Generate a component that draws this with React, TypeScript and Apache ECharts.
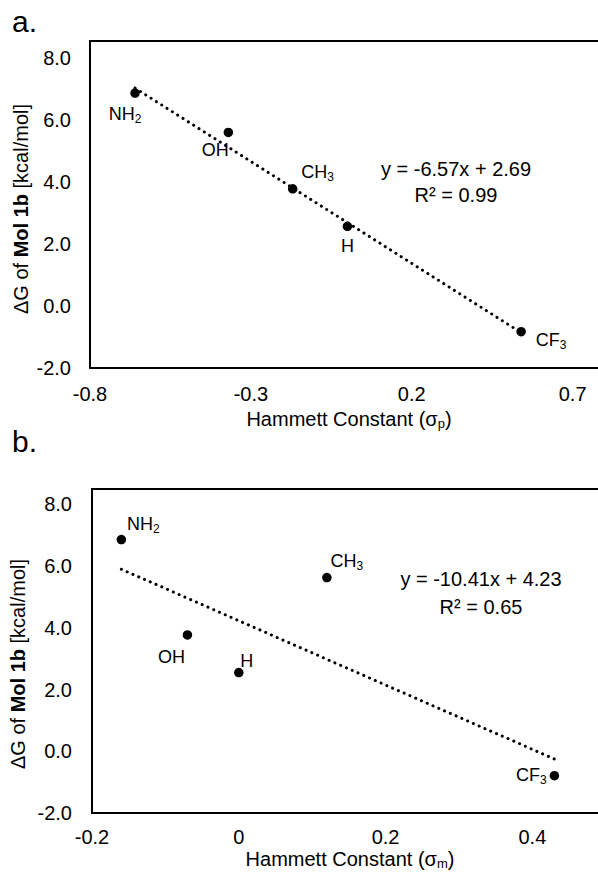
import React, { useEffect, useRef } from 'react';
import * as echarts from 'echarts';

// ---- Data: panel a (sigma para) ----
const substituentsA = ['NH2', 'OH', 'CH3', 'H', 'CF3'];
const sigmaP = [-0.66, -0.37, -0.17, 0, 0.54];
const dGA = [6.87, 5.6, 3.78, 2.57, -0.83];
const trendAX = [-0.66, 0.54];
const trendAY = [7.03, -0.86];
const equationA = ['y = -6.57x + 2.69', 'R² = 0.99'];

// ---- Data: panel b (sigma meta) ----
const substituentsB = ['NH2', 'OH', 'CH3', 'H', 'CF3'];
const sigmaM = [-0.16, -0.07, 0.12, 0, 0.43];
const dGB = [6.86, 3.77, 5.63, 2.55, -0.79];
const trendBX = [-0.16, 0.43];
const trendBY = [5.9, -0.25];
const equationB = ['y = -10.41x + 4.23', 'R² = 0.65'];

// ---- Tick labels ----
const xTicksA = ['-0.8', '-0.3', '0.2', '0.7'];
const xTicksB = ['-0.2', '0', '0.2', '0.4'];
const yTicks = ['-2.0', '0.0', '2.0', '4.0', '6.0', '8.0'];

// ---- Label placement (style, not data) ----
const labelOffsetsA = [[-10, 21], [-13, 18], [25, -17], [0, 20], [30, 8]];
const labelOffsetsB = [[22, -16], [-16, 22], [20, -17], [8, -12], [-23, -1]];

const FONT = 'Liberation Sans, Arial, Helvetica, sans-serif';

const subscript = (s: string) => s.replace(/(\d)/g, '{s|$1}');

const tickFormatter = (ticks: string[]) => (v: number) => {
  const t = ticks.find((t) => Math.abs(Number(t) - v) < 1e-6);
  return t ?? '';
};

const labelRich = {
  s: { fontSize: 12, fontFamily: FONT, color: '#000', verticalAlign: 'bottom', lineHeight: 12 },
};

const nameRich = {
  g: { fontSize: 20, fontFamily: FONT, color: '#000' },
  s: { fontSize: 13, fontFamily: FONT, color: '#000', verticalAlign: 'bottom', lineHeight: 13 },
};

const yNameRich = {
  n: { fontSize: 20, fontFamily: FONT, color: '#000' },
  b: { fontSize: 20, fontFamily: FONT, color: '#000', fontWeight: 'bold' },
};

function scatterSeries(idx: number, names: string[], xs: number[], ys: number[], offsets: number[][]) {
  return {
    type: 'scatter',
    xAxisIndex: idx,
    yAxisIndex: idx,
    symbol: 'circle',
    symbolSize: 9.5,
    z: 5,
    itemStyle: { color: '#000', opacity: 1 },
    label: {
      show: true,
      position: [4.75, 4.75],
      align: 'center',
      verticalAlign: 'middle',
      color: '#000',
      textBorderWidth: 0,
      fontSize: 18,
      lineHeight: 22,
      fontFamily: FONT,
      formatter: (p: any) => subscript(p.name),
      rich: labelRich,
    },
    emphasis: { disabled: true },
    data: xs.map((x, i) => ({
      name: names[i],
      value: [x, ys[i]],
      label: { offset: offsets[i] },
    })),
  };
}

function trendSeries(idx: number, xs: number[], ys: number[]) {
  return {
    type: 'line',
    xAxisIndex: idx,
    yAxisIndex: idx,
    showSymbol: false,
    silent: true,
    z: 3,
    lineStyle: { color: '#000', width: 3, type: [0.1, 6.2], cap: 'round' },
    data: xs.map((x, i) => [x, ys[i]]),
  };
}

function xAxisCfg(idx: number, min: number, max: number, interval: number, ticks: string[], subLetter: string, margin: number, gap: number) {
  return {
    gridIndex: idx,
    type: 'value',
    min,
    max,
    interval,
    axisLine: { show: false },
    axisTick: { show: false },
    splitLine: { show: false },
    axisLabel: { margin, lineHeight: 18, fontSize: 20, color: '#000', fontFamily: FONT, formatter: tickFormatter(ticks) },
    name: `Hammett Constant ({g|σ}{s|${subLetter}})`,
    nameLocation: 'middle',
    nameGap: gap,
    nameMoveOverlap: false,
    nameTextStyle: { fontSize: 20, lineHeight: 22, color: '#000', fontFamily: FONT, rich: nameRich },
  };
}

function yAxisCfg(idx: number, min: number, max: number, margin: number, gap: number, padR: number) {
  return {
    gridIndex: idx,
    type: 'value',
    min,
    max,
    interval: 2,
    axisLine: { show: false },
    axisTick: { show: false },
    splitLine: { show: false },
    axisLabel: { margin, fontSize: 20, color: '#000', fontFamily: FONT, formatter: tickFormatter(yTicks) },
    name: '{n|ΔG of }{b|Mol 1b}{n| [kcal/mol]}',
    nameLocation: 'middle',
    nameGap: gap,
    nameMoveOverlap: false,
    nameTextStyle: { fontSize: 20, color: '#000', fontFamily: FONT, rich: yNameRich, padding: [0, padR, 0, 0] },
  };
}

export default function App() {
  const ref = useRef<HTMLDivElement>(null);

  useEffect(() => {
    if (!ref.current) return;
    const chart = echarts.init(ref.current, undefined, { renderer: 'svg' });
    chart.setOption({
      animation: false,
      backgroundColor: '#fff',
      textStyle: { fontFamily: FONT, color: '#000' },
      grid: [
        { left: 90, top: 41, right: -10, height: 327, outerBoundsMode: 'none', containLabel: false, show: true, borderColor: '#000', borderWidth: 2, backgroundColor: 'transparent' },
        { left: 92, top: 489, right: -10, height: 324, outerBoundsMode: 'none', containLabel: false, show: true, borderColor: '#000', borderWidth: 2, backgroundColor: 'transparent' },
      ],
      xAxis: [
        xAxisCfg(0, -0.8, 0.81, 0.5, xTicksA, 'p', 17, 40),
        xAxisCfg(1, -0.2, 0.503, 0.2, xTicksB, 'm', 15, 35),
      ],
      yAxis: [
        yAxisCfg(0, -2, 8.55, 19, 59, 9),
        yAxisCfg(1, -2, 8.5, 20, 64, 26),
      ],
      graphic: [
        { type: 'text', left: 12, top: 6, style: { text: 'a.', fontSize: 30, fontFamily: FONT, fill: '#000' } },
        { type: 'text', left: 12, top: 426, style: { text: 'b.', fontSize: 30, fontFamily: FONT, fill: '#000' } },
        {
          type: 'text',
          x: 456,
          y: 182,
          style: { text: equationA.join('\n'), fontSize: 20, lineHeight: 26, fontFamily: FONT, fill: '#000', align: 'center', verticalAlign: 'middle' },
        },
        {
          type: 'text',
          x: 481,
          y: 593,
          style: { text: equationB.join('\n'), fontSize: 20, lineHeight: 28, fontFamily: FONT, fill: '#000', align: 'center', verticalAlign: 'middle' },
        },
      ],
      series: [
        trendSeries(0, trendAX, trendAY),
        scatterSeries(0, substituentsA, sigmaP, dGA, labelOffsetsA),
        trendSeries(1, trendBX, trendBY),
        scatterSeries(1, substituentsB, sigmaM, dGB, labelOffsetsB),
      ],
    });
    return () => chart.dispose();
  }, []);

  return <div ref={ref} style={{ position: 'fixed', left: 0, top: 0, width: 598, height: 879 }} />;
}
